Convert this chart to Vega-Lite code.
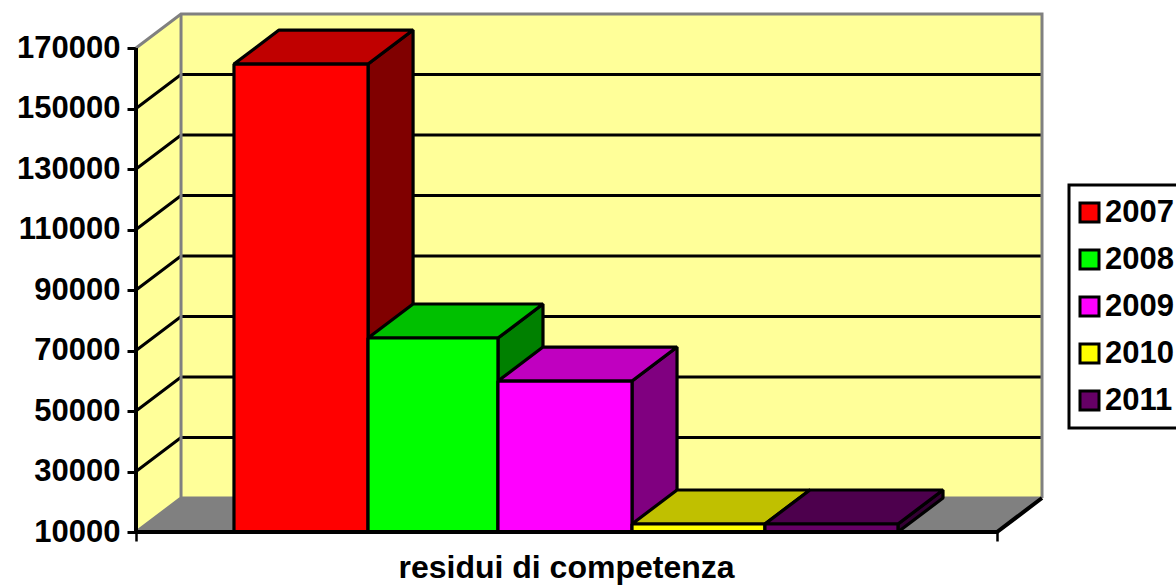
{
"$schema":"https://vega.github.io/schema/vega-lite/v6.json",
"width":906,"height":518,
"autosize":"none",
"padding":{"left":136,"top":14,"right":134,"bottom":54},
"background":"white",
"config":{"view":{"stroke":null},"legend":{"strokeWidth":3}},
"datasets":{
"walls":[
{"x":0,"y":170000,"y2":10000},
{"x":0.0523,"y":181240,"y2":21240},
{"x":1.0523,"y":181240,"y2":21240}],
"floor":[
{"x":0,"y":10000,"y2":10000},
{"x":0.0523,"y":21240,"y2":10000},
{"x":1,"y":21240,"y2":10000},
{"x":1.0523,"y":21240,"y2":21240}],
"grid":[
{"line":"30000","seq":1,"x":0,"y":30000},{"line":"30000","seq":2,"x":0.0523,"y":41240},{"line":"30000","seq":3,"x":1.0523,"y":41240},
{"line":"50000","seq":1,"x":0,"y":50000},{"line":"50000","seq":2,"x":0.0523,"y":61240},{"line":"50000","seq":3,"x":1.0523,"y":61240},
{"line":"70000","seq":1,"x":0,"y":70000},{"line":"70000","seq":2,"x":0.0523,"y":81240},{"line":"70000","seq":3,"x":1.0523,"y":81240},
{"line":"90000","seq":1,"x":0,"y":90000},{"line":"90000","seq":2,"x":0.0523,"y":101240},{"line":"90000","seq":3,"x":1.0523,"y":101240},
{"line":"110000","seq":1,"x":0,"y":110000},{"line":"110000","seq":2,"x":0.0523,"y":121240},{"line":"110000","seq":3,"x":1.0523,"y":121240},
{"line":"130000","seq":1,"x":0,"y":130000},{"line":"130000","seq":2,"x":0.0523,"y":141240},{"line":"130000","seq":3,"x":1.0523,"y":141240},
{"line":"150000","seq":1,"x":0,"y":150000},{"line":"150000","seq":2,"x":0.0523,"y":161240},{"line":"150000","seq":3,"x":1.0523,"y":161240}],
"border":[
{"line":"outer","seq":1,"x":0,"y":170000},{"line":"outer","seq":2,"x":0.0523,"y":181240},{"line":"outer","seq":3,"x":1.0523,"y":181240},{"line":"outer","seq":4,"x":1.0523,"y":21240},
{"line":"inner","seq":1,"x":0.0523,"y":181240},{"line":"inner","seq":2,"x":0.0523,"y":21240},{"line":"inner","seq":3,"x":0,"y":10000},
{"line":"floorback","seq":1,"x":0.0523,"y":21240},{"line":"floorback","seq":2,"x":1.0523,"y":21240}],
"axisLines":[
{"line":"left","seq":1,"x":0,"y":170000},{"line":"left","seq":2,"x":0,"y":10000},
{"line":"bottom","seq":1,"x":0,"y":10000},{"line":"bottom","seq":2,"x":1,"y":10000},{"line":"bottom","seq":3,"x":1.0523,"y":21240}],
"bars":[
{"face":"2007 lato","x":0.2695,"y":164700,"y2":10000},{"face":"2007 lato","x":0.3218,"y":175940,"y2":21240},
{"face":"2007 cima","x":0.1138,"y":164700,"y2":164700},{"face":"2007 cima","x":0.1661,"y":164700,"y2":175940},{"face":"2007 cima","x":0.2695,"y":164700,"y2":175940},{"face":"2007 cima","x":0.3218,"y":175940,"y2":175940},
{"face":"2007","x":0.1138,"y":164700,"y2":10000},{"face":"2007","x":0.2695,"y":164700,"y2":10000},
{"face":"2008 lato","x":0.4204,"y":74130,"y2":10000},{"face":"2008 lato","x":0.4727,"y":85370,"y2":21240},
{"face":"2008 cima","x":0.2695,"y":74130,"y2":74130},{"face":"2008 cima","x":0.3218,"y":74130,"y2":85370},{"face":"2008 cima","x":0.4204,"y":74130,"y2":85370},{"face":"2008 cima","x":0.4727,"y":85370,"y2":85370},
{"face":"2008","x":0.2695,"y":74130,"y2":10000},{"face":"2008","x":0.4204,"y":74130,"y2":10000},
{"face":"2009 lato","x":0.5761,"y":59900,"y2":10000},{"face":"2009 lato","x":0.6284,"y":71140,"y2":21240},
{"face":"2009 cima","x":0.4204,"y":59900,"y2":59900},{"face":"2009 cima","x":0.4727,"y":59900,"y2":71140},{"face":"2009 cima","x":0.5761,"y":59900,"y2":71140},{"face":"2009 cima","x":0.6284,"y":71140,"y2":71140},
{"face":"2009","x":0.4204,"y":59900,"y2":10000},{"face":"2009","x":0.5761,"y":59900,"y2":10000},
{"face":"2010 lato","x":0.7305,"y":12650,"y2":10000},{"face":"2010 lato","x":0.7828,"y":23890,"y2":21240},
{"face":"2010 cima","x":0.5761,"y":12650,"y2":12650},{"face":"2010 cima","x":0.6284,"y":12650,"y2":23890},{"face":"2010 cima","x":0.7305,"y":12650,"y2":23890},{"face":"2010 cima","x":0.7828,"y":23890,"y2":23890},
{"face":"2010","x":0.5761,"y":12650,"y2":10000},{"face":"2010","x":0.7305,"y":12650,"y2":10000},
{"face":"2011 lato","x":0.885,"y":12650,"y2":10000},{"face":"2011 lato","x":0.9373,"y":23890,"y2":21240},
{"face":"2011 cima","x":0.7305,"y":12650,"y2":12650},{"face":"2011 cima","x":0.7828,"y":12650,"y2":23890},{"face":"2011 cima","x":0.885,"y":12650,"y2":23890},{"face":"2011 cima","x":0.9373,"y":23890,"y2":23890},
{"face":"2011","x":0.7305,"y":12650,"y2":10000},{"face":"2011","x":0.885,"y":12650,"y2":10000}]
},
"layer":[
{"data":{"name":"walls"},"mark":{"type":"area","color":"#FFFF99","clip":false},
"encoding":{
"x":{"field":"x","type":"quantitative","scale":{"domain":[0,1.0523],"nice":false,"zero":false},
"axis":{"values":[0,1],"labels":false,"domain":false,"grid":false,"ticks":true,"tickColor":"black","tickWidth":2.5,"tickSize":9,"title":"residui di competenza","titleFont":"Liberation Sans","titleFontWeight":"bold","titleFontSize":32,"titleColor":"black","titleX":430,"titleY":45,"titleAlign":"center","titleBaseline":"alphabetic"}},
"y":{"field":"y","type":"quantitative","stack":null,"scale":{"domain":[10000,181240],"nice":false,"zero":false},
"axis":{"values":[10000,30000,50000,70000,90000,110000,130000,150000,170000],"format":"d","domain":false,"grid":false,"tickColor":"black","tickWidth":3,"tickSize":9,"labelFont":"Liberation Sans","labelFontWeight":"bold","labelFontSize":31,"labelColor":"black","labelPadding":7,"title":null}},
"y2":{"field":"y2"}}},
{"data":{"name":"floor"},"mark":{"type":"area","color":"#808080"},
"encoding":{"x":{"field":"x","type":"quantitative"},"y":{"field":"y","type":"quantitative","stack":null},"y2":{"field":"y2"}}},
{"data":{"name":"grid"},"mark":{"type":"line","color":"black","strokeWidth":3},
"encoding":{"x":{"field":"x","type":"quantitative"},"y":{"field":"y","type":"quantitative"},"detail":{"field":"line"},"order":{"field":"seq"}}},
{"data":{"name":"border"},"mark":{"type":"line","color":"#808080","strokeWidth":3},
"encoding":{"x":{"field":"x","type":"quantitative"},"y":{"field":"y","type":"quantitative"},"detail":{"field":"line"},"order":{"field":"seq"}}},
{"data":{"name":"bars"},"mark":{"type":"area","stroke":"black","strokeWidth":3.2,"strokeJoin":"bevel","opacity":1,"fillOpacity":1},
"encoding":{"x":{"field":"x","type":"quantitative"},"y":{"field":"y","type":"quantitative","stack":null},"y2":{"field":"y2"},
"color":{"field":"face","type":"nominal","sort":null,
"scale":{"domain":["2007","2008","2009","2010","2011","2007 lato","2008 lato","2009 lato","2010 lato","2011 lato","2007 cima","2008 cima","2009 cima","2010 cima","2011 cima"],
"range":["#FF0000","#00FF00","#FF00FF","#FFFF00","#660066","#800000","#008000","#800080","#808000","#330033","#C00000","#00C000","#C000C0","#C0C000","#4D004D"]},
"legend":{"values":["2007","2008","2009","2010","2011"],"title":null,"orient":"none","legendX":933,"legendY":171,"symbolType":"square","symbolSize":361,"symbolStrokeColor":"black","symbolStrokeWidth":3,"symbolOpacity":1,"symbolOffset":-7,"labelFont":"Liberation Sans","labelFontWeight":"bold","labelFontSize":31,"labelColor":"black","labelOffset":0,"strokeColor":"black","padding":12,"rowPadding":15,"labelLimit":200}}}},
{"data":{"name":"axisLines"},"mark":{"type":"line","color":"black","strokeWidth":4},
"encoding":{"x":{"field":"x","type":"quantitative"},"y":{"field":"y","type":"quantitative"},"detail":{"field":"line"},"order":{"field":"seq"}}}
]
}
